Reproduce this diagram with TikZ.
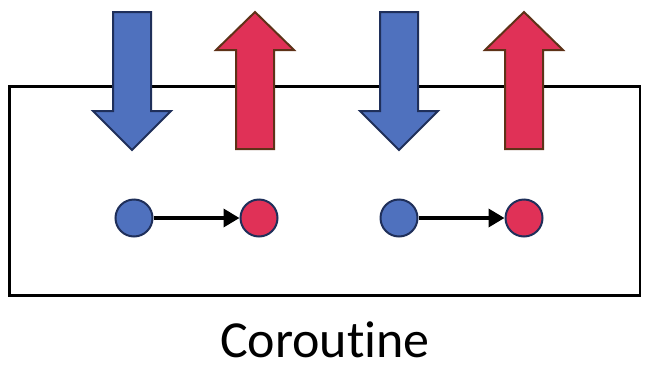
\documentclass[tikz,border=0pt]{standalone}
\usepackage{fontspec}
\setmainfont{Carlito}[RawFeature={-liga;-calt;-clig}]
\usetikzlibrary{arrows.meta}
\definecolor{myblue}{HTML}{4F71BE}
\definecolor{myred}{HTML}{E03157}
\definecolor{navy}{HTML}{1F2F5A}
\definecolor{brownline}{HTML}{5E3218}
\tikzset{
  bluearrow/.style={fill=myblue, draw=navy, line width=2pt, line join=miter},
  redarrow/.style={fill=myred, draw=brownline, line width=2pt, line join=miter},
  bluedot/.style={circle, minimum size=37pt, inner sep=0pt, fill=myblue, draw=navy, line width=2pt},
  reddot/.style={circle, minimum size=37pt, inner sep=0pt, fill=myred, draw=navy, line width=2pt},
  link/.style={line width=3.5pt, -{Triangle[length=16pt,width=18pt]}},
  box/.style={draw=black, line width=2.5pt}
}
\begin{document}
\begin{tikzpicture}[x=1pt,y=-1pt]
\useasboundingbox (0,0) rectangle (650,370);
\draw[box] (9.5,86.5) rectangle (640,295.5);
% first pair
\draw[bluearrow] (113,12) -- (151,12) -- (151,111) -- (171,111) -- (132,150) -- (93,111) -- (113,111) -- cycle;
\draw[redarrow] (255,12) -- (294,50) -- (274,50) -- (274,149) -- (236,149) -- (236,50) -- (216,50) -- cycle;
% second pair
\begin{scope}[xshift=267pt]
\draw[bluearrow] (113,12) -- (151,12) -- (151,111) -- (171,111) -- (132,150) -- (93,111) -- (113,111) -- cycle;
\end{scope}
\begin{scope}[xshift=269pt]
\draw[redarrow] (255,12) -- (294,50) -- (274,50) -- (274,149) -- (236,149) -- (236,50) -- (216,50) -- cycle;
\end{scope}
\node[bluedot] (b1) at (134,218) {};
\node[reddot] (r1) at (259,218) {};
\node[bluedot] (b2) at (399,218) {};
\node[reddot] (r2) at (524,218) {};
\draw[link] (b1) -- (r1);
\draw[link] (b2) -- (r2);
\node[font=\fontsize{52}{60}\selectfont, anchor=base] (label) at (325,357) {Coroutine};
\end{tikzpicture}
\end{document}
